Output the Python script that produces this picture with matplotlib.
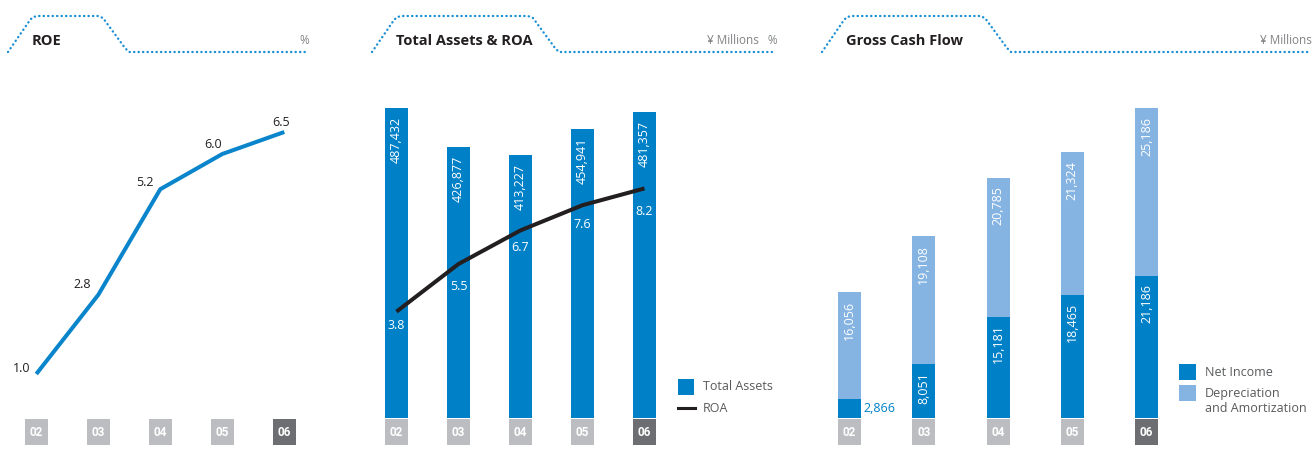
import matplotlib
matplotlib.use('Agg')
import matplotlib.pyplot as plt
from matplotlib.patches import Rectangle
from matplotlib.lines import Line2D
from matplotlib.transforms import blended_transform_factory

# ---------------- data ----------------
years = ['02', '03', '04', '05', '06']
roe = [1.0, 2.8, 5.2, 6.0, 6.5]
total_assets = [487432, 426877, 413227, 454941, 481357]
roa = [3.8, 5.5, 6.7, 7.6, 8.2]
net_income = [2866, 8051, 15181, 18465, 21186]
dep_amort = [16056, 19108, 20785, 21324, 25186]

# ---------------- style ----------------
plt.rcParams['font.family'] = ['Open Sans', 'DejaVu Sans']
BLUE = '#0080C7'
LIGHT = '#86B4E2'
LINE_BLUE = '#0A85CB'
DARK = '#231F20'
GRAY_TXT = '#808285'
LEG_TXT = '#58595B'
BOX = '#BCBDC0'
BOX_LAST = '#6D6E71'
DOT = '#1A8FD3'

W, H = 1312, 454
fig = plt.figure(figsize=(W / 100, H / 100), dpi=100)

TOP, BOT = 80, 418
AX_H = BOT - TOP


def px_axes(left, width):
    ax = fig.add_axes([left / W, (H - BOT) / H, width / W, AX_H / H])
    ax.set_xlim(-0.5, len(years) - 0.5)
    for s in ax.spines.values():
        s.set_visible(False)
    ax.set_xticks([])
    ax.set_yticks([])
    ax.patch.set_alpha(0)
    return ax


def year_boxes(ax, width_px):
    tr = blended_transform_factory(ax.transData, ax.transAxes)
    dpp = (len(years)) / width_px
    w = 23 * dpp
    h = 26 / AX_H
    gap = 1 / AX_H
    for i, y in enumerate(years):
        c = BOX_LAST if i == len(years) - 1 else BOX
        ax.add_patch(Rectangle((i - w / 2, -h - gap), w, h, transform=tr,
                               facecolor=c, edgecolor='none', clip_on=False))
        ax.text(i, -h / 2 - gap, y, transform=tr, ha='center', va='center',
                color='white', fontsize=8.5, fontweight='bold', family='Roboto')


x = list(range(len(years)))

# ---------------- panel 1: ROE ----------------
w1 = 310
ax1 = px_axes(36.3 - w1 / 10, w1)
ax1.set_ylim(0, AX_H / 44.0)
ax1.plot(x, roe, color=LINE_BLUE, lw=2.9, solid_joinstyle='miter', solid_capstyle='butt')
roe_offsets = [(-15, 6), (-16, 10), (-15, 7), (-9, 9), (-3, 10)]
for i, v in enumerate(roe):
    ax1.annotate(f'{v:.1f}', xy=(i, v), xytext=roe_offsets[i], textcoords='offset pixels',
                 ha='center', va='center', fontsize=9, color=DARK)
year_boxes(ax1, w1)

# ---------------- panel 2: Total Assets & ROA ----------------
w2 = 310
ax2 = px_axes(396.5 - w2 / 10, w2)
ax2.set_ylim(0, AX_H / 0.000636)
ax2.bar(x, total_assets, width=23 * 5 / w2, color=BLUE, zorder=1)
for i, v in enumerate(total_assets):
    ax2.annotate(f'{v:,}', xy=(i, v), xytext=(0, -9), textcoords='offset pixels',
                 rotation=90, ha='center', va='top', fontsize=9, color='white')
ax2b = ax2.twinx()
ax2b.set_xlim(-0.5, len(years) - 0.5)
ax2b.set_ylim(0, AX_H / 28.0)
for s in ax2b.spines.values():
    s.set_visible(False)
ax2b.set_yticks([])
ax2b.plot(x, roa, color=DARK, lw=2.9, solid_capstyle='butt')
roa_offsets = [-14, -22, -17, -19, -23]
for i, v in enumerate(roa):
    ax2b.annotate(f'{v:.1f}', xy=(i, v), xytext=(0, roa_offsets[i]), textcoords='offset pixels',
                  ha='center', va='center', fontsize=9, color='white')
year_boxes(ax2, w2)

# ---------------- panel 3: Gross Cash Flow ----------------
w3 = 371.25
ax3 = px_axes(849.5 - w3 / 10, w3)
ax3.set_ylim(0, AX_H / 0.006685)
bw = 23 * 5 / w3
ax3.bar(x, net_income, width=bw, color=BLUE)
ax3.bar(x, dep_amort, bottom=net_income, width=bw, color=LIGHT)
tot = [a + b for a, b in zip(net_income, dep_amort)]
for i in x:
    ax3.annotate(f'{dep_amort[i]:,}', xy=(i, tot[i]), xytext=(0, -9), textcoords='offset pixels',
                 rotation=90, ha='center', va='top', fontsize=9, color='white')
    if net_income[i] < 0.1 * max(tot):
        ax3.annotate(f'{net_income[i]:,}', xy=(i, net_income[i] / 2), xytext=(14, 0),
                     textcoords='offset pixels', ha='left', va='center', fontsize=9, color=BLUE)
    else:
        ax3.annotate(f'{net_income[i]:,}', xy=(i, net_income[i]), xytext=(0, -8),
                     textcoords='offset pixels', rotation=90, ha='center', va='top',
                     fontsize=9, color='white')
year_boxes(ax3, w3)

# ---------------- overlay: headers & legends ----------------
ov = fig.add_axes([0, 0, 1, 1], zorder=-1)
ov.set_xlim(0, W)
ov.set_ylim(H, 0)
ov.axis('off')


def header(x0, x_top_end, x_end, title, unit):
    xs = [x0, x0 + 22, x0 + 25, x0 + 30, x_top_end - 4, x_top_end + 1, x_top_end + 23, x_top_end + 27, x_end]
    ys = [52, 20, 17, 16, 16, 18, 48, 52, 52]
    ov.plot(xs, ys, color=DOT, lw=1.7, linestyle=(0, (0.1, 1.8)), dash_capstyle='round')
    ov.text(x0 + 24, 41, title, fontsize=10.5, fontweight='bold', color=DARK, ha='left', va='center')
    ov.text(x_end + 2, 40, unit, fontsize=8.5, color=GRAY_TXT, ha='right', va='center')


header(8, 102, 307, 'ROE', '%')
header(372, 532, 776, 'Total Assets & ROA', '¥ Millions   %')
header(822, 984, 1310, 'Gross Cash Flow', '¥ Millions')

# legend panel 2
ov.add_patch(Rectangle((678, 379), 16, 16, facecolor=BLUE, edgecolor='none'))
ov.text(703, 387, 'Total Assets', fontsize=9, color=LEG_TXT, ha='left', va='center')
ov.add_line(Line2D([678, 695], [408, 408], color=DARK, lw=2.2))
ov.text(703, 408, 'ROA', fontsize=9, color=LEG_TXT, ha='left', va='center')

# legend panel 3
ov.add_patch(Rectangle((1179, 364), 17, 16, facecolor=BLUE, edgecolor='none'))
ov.text(1205, 372, 'Net Income', fontsize=9, color=LEG_TXT, ha='left', va='center')
ov.add_patch(Rectangle((1179, 385), 17, 16, facecolor=LIGHT, edgecolor='none'))
ov.text(1205, 401, 'Depreciation\nand Amortization', fontsize=9, color=LEG_TXT,
        ha='left', va='center', linespacing=1.1)

fig.savefig('out.png', dpi=100)
